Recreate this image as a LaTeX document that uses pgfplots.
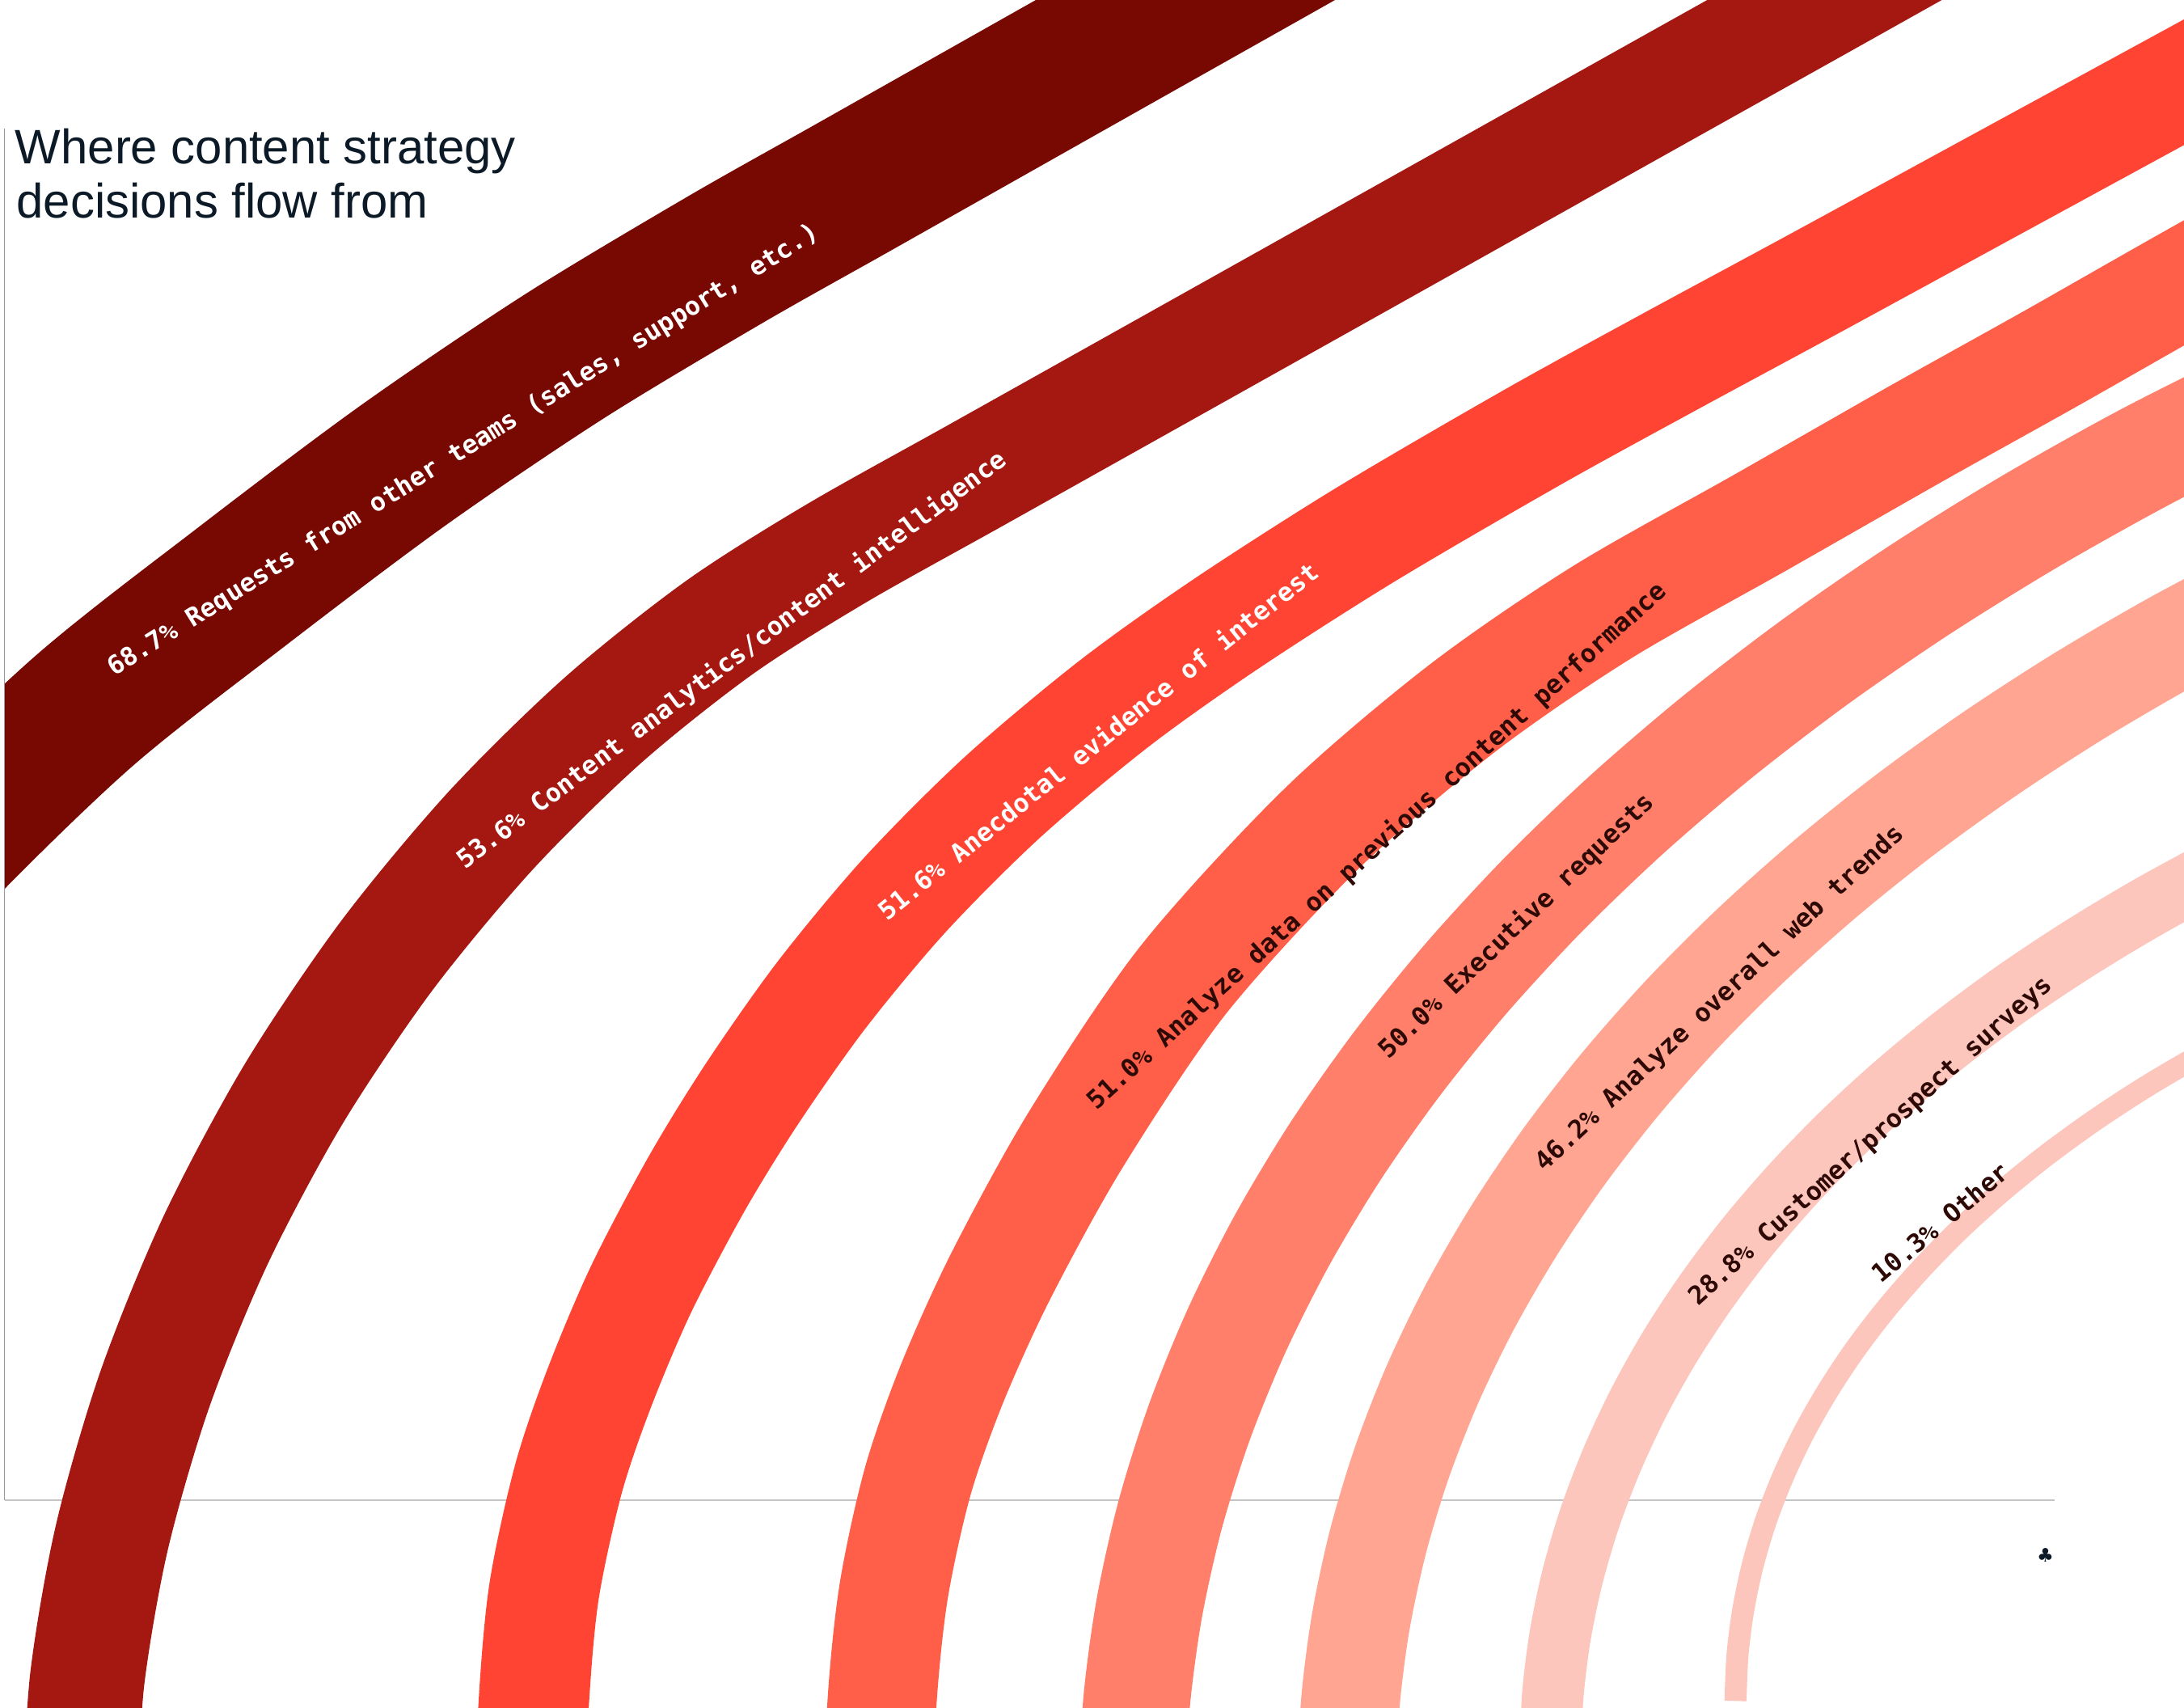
\documentclass[border=0pt]{standalone}
\usepackage{pgfplots}
\pgfplotsset{compat=1.18}
\usepackage{fontspec}
\setmainfont{Liberation Sans}
\newfontfamily\labelfont{DejaVu Sans Mono}
\newfontfamily\symfont{DejaVu Sans}
\definecolor{b1}{HTML}{780902}
\definecolor{b2}{HTML}{A51812}
\definecolor{b3}{HTML}{FF4433}
\definecolor{b4}{HTML}{FF5E48}
\definecolor{b5}{HTML}{FF7F6A}
\definecolor{b6}{HTML}{FFA592}
\definecolor{b7}{HTML}{FDC6BD}
\definecolor{b8}{HTML}{FDC6BD}
\definecolor{titlecol}{HTML}{0B1A26}
\definecolor{darklab}{HTML}{2E0A06}
\newcommand{\bw}[1]{#1*0.614pt}
\newcommand{\lab}{\labelfont\bfseries\fontsize{7.35}{8}\selectfont}
\begin{document}
\begin{tikzpicture}
\begin{axis}[
  x=0.4pt, y=0.4pt, y dir=reverse,
  xmin=0, xmax=1568, ymin=0, ymax=1226,
  hide axis, clip=true,
  every axis plot/.append style={line cap=butt, smooth, mark=none},
]
% axis frame line (bottom)
\draw[color=black!23, line width=0.4pt] (axis cs:0,1077) -- (axis cs:1475,1077);
% bands (centre lines, width proportional to share)
\addplot[draw=b1, line width=\bw{68.7}] coordinates {(-163.4,745) (-53.6,621) (59,511.5) (173.7,421) (289.4,334.1) (405,255.9) (520,186.8) (610,136) (700,85.2) (790,34.4) (880,-16.3) (960,-61.4)};
\addplot[draw=b2, line width=\bw{53.6}] coordinates {(57,1300) (62.7,1204.7) (80.5,1102.8) (111.3,996.9) (155,889.8) (211,785) (277.6,686.1) (352.5,596) (433,516.9) (516.4,450.5) (600,397.5) (700,341.5) (800,285.5) (900,229.5) (1000,173.5) (1100,117.5) (1200,61.5) (1310,0) (1420,-61.7)};
\addplot[draw=b3, line width=\bw{51.6}] coordinates {(380,1320) (383,1226) (390.5,1143) (408,1062) (430,997) (460,926) (500,850) (540,785) (590,714) (650,642) (720,572) (800,505) (880,448) (980,384) (1100,314) (1200,259) (1300,205) (1434,132) (1568,59) (1700,-13)};
\addplot[draw=b4, line width=\bw{51.0}] coordinates {(631,1320) (633,1226) (641.5,1143) (659,1063) (684,992) (719,915) (773,817) (850,702.8) (950,593.7) (1050,508.3) (1150,439.6) (1264,375) (1378,310) (1473,257) (1568,203) (1700,129)};
\addplot[draw=b5, line width=\bw{50.0}] coordinates {(813,1290) (816,1222.2) (825.1,1154.6) (840.1,1087.4) (861.1,1020.8) (888,954.8) (920.7,889.8) (959.1,825.9) (1003.2,763.3) (1052.8,702.1) (1107.7,642.5) (1167.9,584.7) (1233.2,528.8) (1303.3,475) (1378.1,423.5) (1457.4,374.3) (1540.9,327.6) (1628.5,283.6)};
\addplot[draw=b6, line width=\bw{46.2}] coordinates {(967,1280) (969.5,1222.2) (976.9,1164.5) (989.2,1107.1) (1006.3,1050.3) (1028.3,994) (1055.1,938.5) (1086.6,884) (1122.6,830.6) (1163.2,778.3) (1208.1,727.5) (1257.4,678.2) (1310.8,630.5) (1368.1,584.6) (1429.3,540.6) (1494.2,498.6) (1562.6,458.8) (1634.2,421.2)};
\addplot[draw=b7, line width=\bw{28.8}] coordinates {(1113,1260) (1114.8,1217.1) (1120.1,1174.3) (1129,1131.7) (1141.4,1089.5) (1157.3,1047.8) (1176.6,1006.6) (1199.3,966.1) (1225.4,926.5) (1254.7,887.7) (1287.2,850) (1322.7,813.4) (1361.3,778) (1402.7,744) (1446.9,711.3) (1493.8,680.2) (1543.1,650.6) (1594.9,622.7) (1648.9,596.6)};
\addplot[draw=b8, line width=\bw{10.3}] coordinates {(1246,1221) (1247.4,1188.4) (1251.5,1156) (1258.3,1123.7) (1267.8,1091.7) (1280.1,1060) (1294.9,1028.8) (1312.4,998.1) (1332.4,968) (1355,938.6) (1380,910) (1407.3,882.2) (1437,855.4) (1468.8,829.6) (1502.9,804.8) (1538.9,781.2) (1576.9,758.8) (1616.7,737.6)};
% left clip of the first band, and left frame line
\fill[white] (axis cs:-5,-20) rectangle (axis cs:3.3,1300);
\draw[color=black!40, line width=0.27pt] (axis cs:3.3,92.5) -- (axis cs:3.3,1077);
% labels
\node[rotate=31.9, text=white, font=\lab, inner sep=0] at (axis cs:333,323.5) {68.7\% Requests from other teams (sales, support, etc.)};
\node[rotate=36.8, text=white, font=\lab, inner sep=0] at (axis cs:525.5,474) {53.6\% Content analytics/content intelligence};
\node[rotate=38.6, text=white, font=\lab, inner sep=0] at (axis cs:788,531.5) {51.6\% Anecdotal evidence of interest};
\node[rotate=42.2, text=darklab, font=\lab, inner sep=0] at (axis cs:988.7,607.5) {51.0\% Analyze data on previous content performance};
\node[rotate=43.8, text=darklab, font=\lab, inner sep=0] at (axis cs:1089,665) {50.0\% Executive requests};
\node[rotate=43.0, text=darklab, font=\lab, inner sep=0] at (axis cs:1235,717) {46.2\% Analyze overall web trends};
\node[rotate=42.0, text=darklab, font=\lab, inner sep=0] at (axis cs:1343.5,819.5) {28.8\% Customer/prospect surveys};
\node[rotate=40.0, text=darklab, font=\lab, inner sep=0] at (axis cs:1393,877.5) {10.3\% Other};
% title
\node[anchor=base west, inner sep=0, text=titlecol, font=\fontsize{13.9}{16}\selectfont] at (axis cs:10.5,117.3) {Where content strategy};
\node[anchor=base west, inner sep=0, text=titlecol, font=\fontsize{13.9}{16}\selectfont] at (axis cs:11.5,156.4) {decisions flow from};
% logo
\node[inner sep=0, text=titlecol, font=\symfont\fontsize{5.4}{6}\selectfont] at (axis cs:1468.5,1116.5) {♣};
\end{axis}
\end{tikzpicture}
\end{document}
